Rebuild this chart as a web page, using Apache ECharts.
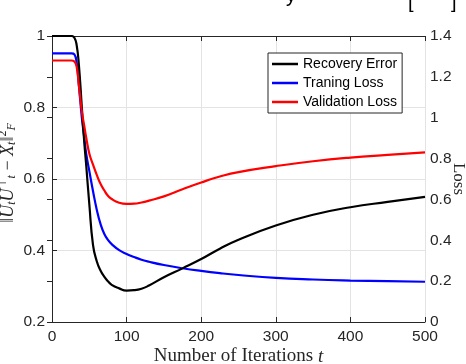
<!DOCTYPE html>
<html>
<head>
<meta charset="utf-8">
<script src="https://cdn.jsdelivr.net/npm/echarts/dist/echarts.min.js"></script>
<style>
html, body { margin: 0; padding: 0; background: #fff; }
#chart { width: 466px; height: 364px; }
</style>
</head>
<body>
<div id="chart"></div>
<script>
// data
var iterations = [0, 10, 20, 26, 30, 33, 36, 40, 43, 46, 50, 55, 60, 65, 70, 75, 80, 90, 100, 110, 120, 130, 150, 175, 200, 225, 250, 300, 350, 400, 450, 500];
var recoveryError = [1.0, 1.0, 1.0, 1.0, 0.995, 0.975, 0.92, 0.80, 0.71, 0.635, 0.53, 0.415, 0.37, 0.344, 0.327, 0.314, 0.304, 0.294, 0.288, 0.289, 0.293, 0.302, 0.325, 0.35, 0.376, 0.405, 0.43, 0.47, 0.5, 0.521, 0.536, 0.55];
var trainingLoss = [1.315, 1.315, 1.315, 1.315, 1.31, 1.27, 1.16, 1.0, 0.91, 0.82, 0.74, 0.64, 0.55, 0.48, 0.432, 0.402, 0.381, 0.352, 0.333, 0.318, 0.305, 0.295, 0.279, 0.263, 0.25, 0.239, 0.23, 0.216, 0.208, 0.203, 0.2, 0.197];
var validationLoss = [1.28, 1.28, 1.28, 1.28, 1.275, 1.25, 1.16, 1.03, 0.965, 0.9, 0.825, 0.77, 0.72, 0.677, 0.645, 0.618, 0.602, 0.584, 0.578, 0.579, 0.585, 0.594, 0.615, 0.65, 0.683, 0.712, 0.734, 0.763, 0.787, 0.805, 0.818, 0.83];
var seriesNames = ['Recovery Error', 'Traning Loss', 'Validation Loss'];
var xRange = [0, 500, 100];
var leftRange = [0.2, 1, 0.2];
var rightRange = [0, 1.4, 0.2];

function pairs(ys) {
  return iterations.map(function (t, i) { return [t, ys[i]]; });
}
function fmt(v) { return String(+v.toFixed(1)); }

var axisColor = '#262626';
var sans = 'Liberation Sans';
var serif = 'Liberation Serif';

function lineSeries(name, axis, ys, color, z) {
  return {
    name: name,
    type: 'line',
    yAxisIndex: axis,
    data: pairs(ys),
    smooth: 0.5,
    showSymbol: false,
    lineStyle: { color: color, width: 2.2 },
    itemStyle: { color: color },
    z: z
  };
}

var myChart = echarts.init(document.getElementById('chart'));
myChart.setOption({
  animation: false,
  backgroundColor: '#fff',
  textStyle: { fontFamily: sans },
  grid: { left: 52, right: 41, top: 36, bottom: 42, containLabel: false, outerBoundsMode: 'none' },
  legend: {
    data: seriesNames.map(function (n) { return { name: n, icon: 'rect' }; }),
    orient: 'vertical',
    left: 268, top: 53,
    itemWidth: 26, itemHeight: 2.5,
    itemGap: 5,
    padding: [4, 5, 4, 4],
    borderColor: axisColor, borderWidth: 1,
    backgroundColor: '#fff',
    textStyle: { fontFamily: sans, fontSize: 14, color: '#000' }
  },
  graphic: [
    { type: 'text', left: 286, top: -14, style: { text: 'y', font: '20px "Liberation Sans"', fill: '#000' } },
    { type: 'text', left: 408, top: -8, style: { text: '[', font: '20px "Liberation Sans"', fill: '#000' } },
    { type: 'text', left: 451, top: -8, style: { text: ']', font: '20px "Liberation Sans"', fill: '#000' } }
  ],
  xAxis: [{
    type: 'value',
    min: xRange[0], max: xRange[1], interval: xRange[2],
    name: 'Number of Iterations {i|t}',
    nameLocation: 'middle',
    nameGap: 25,
    nameMoveOverlap: false,
    nameTextStyle: {
      fontFamily: serif, fontSize: 19, color: axisColor,
      rich: { i: { fontFamily: serif, fontStyle: 'italic', fontSize: 19, color: axisColor } }
    },
    axisLine: { show: true, lineStyle: { color: axisColor, width: 1 } },
    axisTick: { show: true, inside: true, length: 5, lineStyle: { color: axisColor } },
    axisLabel: { fontFamily: sans, fontSize: 15.5, color: axisColor, margin: 7 },
    splitLine: { show: true, lineStyle: { color: '#e3e3e3', width: 1 } }
  }, {
    type: 'value',
    position: 'top',
    min: xRange[0], max: xRange[1], interval: xRange[2],
    axisLine: { show: true, lineStyle: { color: axisColor, width: 1 } },
    axisTick: { show: true, inside: true, length: 5, lineStyle: { color: axisColor } },
    axisLabel: { show: false },
    splitLine: { show: false }
  }],
  yAxis: [{
    type: 'value',
    position: 'left',
    min: leftRange[0], max: leftRange[1], interval: leftRange[2],
    name: '{n|‖}{i|U}{sb|t}{i|U}{sp|⊤}{sb|t}{n| − }{i|X}{sb|t}{n|‖}{sp|2}{sb|F}',
    nameLocation: 'middle',
    nameGap: 33,
    nameMoveOverlap: false,
    nameTextStyle: {
      color: axisColor,
      padding: [0, 0, 0, 12],
      rich: {
        n: { fontFamily: serif, fontSize: 18, color: axisColor },
        i: { fontFamily: serif, fontStyle: 'italic', fontSize: 18, color: axisColor },
        sb: { fontFamily: serif, fontStyle: 'italic', fontSize: 12, color: axisColor, padding: [8, 0, 0, 0] },
        sp: { fontFamily: serif, fontSize: 12, color: axisColor, padding: [0, 0, 10, 0] }
      }
    },
    axisLine: { show: true, lineStyle: { color: axisColor, width: 1 } },
    axisTick: { show: true, inside: true, length: 5, lineStyle: { color: axisColor } },
    axisLabel: { fontFamily: sans, fontSize: 15.5, color: axisColor, margin: 7, formatter: fmt },
    splitLine: { show: true, lineStyle: { color: '#e3e3e3', width: 1 } }
  }, {
    type: 'value',
    position: 'right',
    min: rightRange[0], max: rightRange[1], interval: rightRange[2],
    name: 'Loss',
    nameLocation: 'middle',
    nameRotate: -90,
    nameGap: 25,
    nameMoveOverlap: false,
    nameTextStyle: { fontFamily: serif, fontSize: 17, color: axisColor },
    axisLine: { show: true, lineStyle: { color: axisColor, width: 1 } },
    axisTick: { show: true, inside: true, length: 5, lineStyle: { color: axisColor } },
    axisLabel: { fontFamily: sans, fontSize: 15.5, color: axisColor, margin: 5, formatter: fmt },
    splitLine: { show: false }
  }],
  series: [
    lineSeries(seriesNames[0], 0, recoveryError, '#000000', 3),
    lineSeries(seriesNames[1], 1, trainingLoss, '#0000ff', 2),
    lineSeries(seriesNames[2], 1, validationLoss, '#ff0000', 4)
  ]
});
window.addEventListener('resize', function () { myChart.resize(); });
</script>
</body>
</html>
